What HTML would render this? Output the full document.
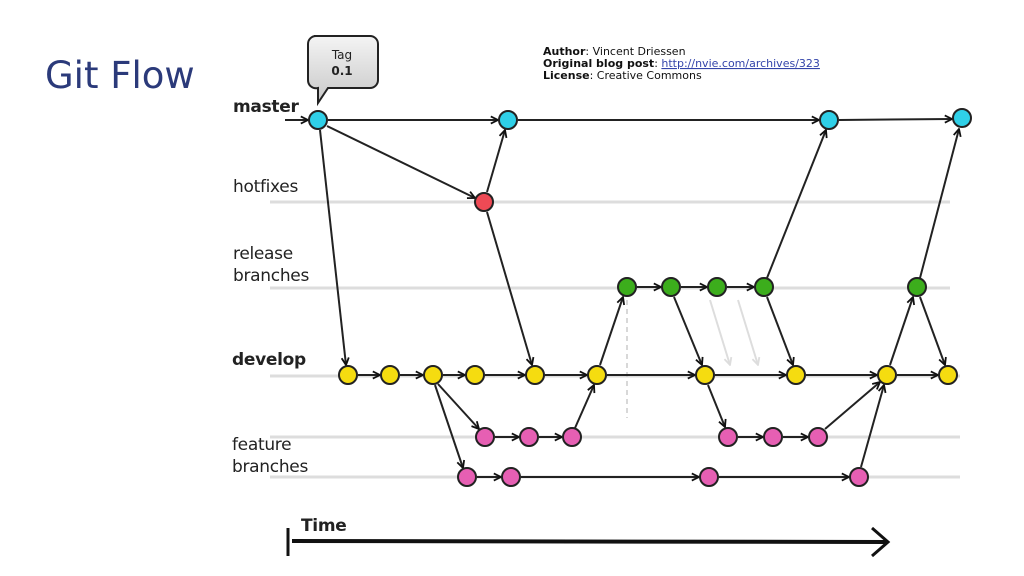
<!DOCTYPE html>
<html><head><meta charset="utf-8"><style>
html,body{margin:0;padding:0;background:#fff;width:1024px;height:576px;overflow:hidden}
svg{display:block}
text{font-family:"DejaVu Sans","Liberation Sans",sans-serif}
</style></head><body>
<svg width="1024" height="576" viewBox="0 0 1024 576" xmlns="http://www.w3.org/2000/svg">
<defs>
<marker id="a" viewBox="0 0 10 10" refX="9" refY="5" markerWidth="9" markerHeight="9" markerUnits="userSpaceOnUse" orient="auto">
<path d="M1,1 L9,5 L1,9" fill="none" stroke="#111" stroke-width="2"/></marker>
<marker id="g" viewBox="0 0 10 10" refX="9" refY="5" markerWidth="9" markerHeight="9" markerUnits="userSpaceOnUse" orient="auto">
<path d="M1,1 L9,5 L1,9" fill="none" stroke="#ddd" stroke-width="2"/></marker>
<linearGradient id="tg" x1="0" y1="0" x2="0" y2="1"><stop offset="0" stop-color="#f4f4f4"/><stop offset="1" stop-color="#c8c8c8"/></linearGradient>
</defs>
<text x="45" y="88" font-size="37" fill="#2b3a7a">Git Flow</text>

<g fill="#111" font-size="11" style="font-family:'Liberation Sans',sans-serif">
<text x="543" y="55"><tspan font-weight="bold">Author</tspan>: Vincent Driessen</text>
<text x="543" y="67"><tspan font-weight="bold">Original blog post</tspan>: <tspan fill="#3344aa" text-decoration="underline">http://nvie.com/archives/323</tspan></text>
<text x="543" y="79"><tspan font-weight="bold">License</tspan>: Creative Commons</text>
</g>

<path d="M314,36 h56 a8,8 0 0 1 8,8 v36 a8,8 0 0 1 -8,8 h-42 l-10,15 l0,-15 a8,8 0 0 1 -10,-8 v-36 a8,8 0 0 1 8,-8 z" fill="url(#tg)" stroke="#222" stroke-width="2"/>
<text x="342" y="59" font-size="12" text-anchor="middle" fill="#222">Tag</text>
<text x="342" y="75" font-size="12" font-weight="bold" text-anchor="middle" fill="#222">0.1</text>

<g font-size="17" fill="#222" letter-spacing="-0.3">
<text x="233" y="112" font-weight="bold">master</text>
<text x="233" y="192">hotfixes</text>
<text x="233" y="259">release</text>
<text x="233" y="281">branches</text>
<text x="232" y="365" font-weight="bold">develop</text>
<text x="232" y="450">feature</text>
<text x="232" y="472">branches</text>
<text x="301" y="531" font-weight="bold">Time</text>
</g>

<g stroke="#ddd" stroke-width="3">
<line x1="270" y1="202" x2="950" y2="202"/>
<line x1="270" y1="288" x2="950" y2="288"/>
<line x1="270" y1="376" x2="960" y2="376"/>
<line x1="270" y1="437" x2="960" y2="437"/>
<line x1="270" y1="477" x2="960" y2="477"/>
</g>
<line x1="627" y1="300" x2="627" y2="418" stroke="#ccc" stroke-width="1.5" stroke-dasharray="5,4"/>

<line x1="288" y1="528" x2="288" y2="556" stroke="#111" stroke-width="3"/>
<line x1="292" y1="541" x2="886" y2="542" stroke="#111" stroke-width="4"/>
<path d="M872,528 L888,542 L872,556" fill="none" stroke="#111" stroke-width="3"/>

<g stroke="#222" stroke-width="2" fill="none" marker-end="url(#a)">
<line x1="285" y1="120" x2="308" y2="120"/>
<line x1="328" y1="120" x2="498" y2="120"/>
<line x1="518" y1="120" x2="819" y2="120"/>
<line x1="839" y1="120" x2="952" y2="119"/>
<line x1="327" y1="126" x2="475" y2="198"/>
<line x1="487" y1="192" x2="505" y2="130"/>
<line x1="487" y1="212" x2="532" y2="365"/>
<line x1="320" y1="130" x2="346" y2="365"/>
<line x1="358" y1="375" x2="380" y2="375"/>
<line x1="400" y1="375" x2="423" y2="375"/>
<line x1="443" y1="375" x2="465" y2="375"/>
<line x1="485" y1="375" x2="525" y2="375"/>
<line x1="545" y1="375" x2="587" y2="375"/>
<line x1="607" y1="375" x2="695" y2="375"/>
<line x1="715" y1="375" x2="786" y2="375"/>
<line x1="806" y1="375" x2="877" y2="375"/>
<line x1="897" y1="375" x2="938" y2="375"/>
<line x1="438" y1="384" x2="479" y2="429"/>
<line x1="435" y1="385" x2="463" y2="468"/>
<line x1="495" y1="437" x2="519" y2="437"/>
<line x1="539" y1="437" x2="562" y2="437"/>
<line x1="575" y1="428" x2="594" y2="385"/>
<line x1="600" y1="365" x2="623" y2="297"/>
<line x1="637" y1="287" x2="661" y2="287"/>
<line x1="681" y1="287" x2="707" y2="287"/>
<line x1="727" y1="287" x2="754" y2="287"/>
<line x1="674" y1="297" x2="702" y2="365"/>
<line x1="767" y1="297" x2="793" y2="365"/>
<line x1="767" y1="278" x2="826" y2="130"/>
<line x1="708" y1="385" x2="725" y2="427"/>
<line x1="738" y1="437" x2="763" y2="437"/>
<line x1="783" y1="437" x2="808" y2="437"/>
<line x1="825" y1="429" x2="880" y2="382"/>
<line x1="477" y1="477" x2="501" y2="477"/>
<line x1="521" y1="477" x2="699" y2="477"/>
<line x1="719" y1="477" x2="849" y2="477"/>
<line x1="861" y1="467" x2="884" y2="385"/>
<line x1="890" y1="365" x2="913" y2="297"/>
<line x1="920" y1="297" x2="945" y2="365"/>
<line x1="920" y1="278" x2="959" y2="129"/>
</g>
<g stroke="#ddd" stroke-width="2" marker-end="url(#g)">
<line x1="710" y1="300" x2="730" y2="365"/>
<line x1="738" y1="300" x2="758" y2="365"/>
</g>

<g stroke="#222" stroke-width="2">
<g fill="#2fd0e8">
<circle cx="318" cy="120" r="9"/><circle cx="508" cy="120" r="9"/><circle cx="829" cy="120" r="9"/><circle cx="962" cy="118" r="9"/>
</g>
<circle cx="484" cy="202" r="9" fill="#ee4a55"/>
<g fill="#3cad1c">
<circle cx="627" cy="287" r="9"/><circle cx="671" cy="287" r="9"/><circle cx="717" cy="287" r="9"/><circle cx="764" cy="287" r="9"/><circle cx="917" cy="287" r="9"/>
</g>
<g fill="#f5dc10">
<circle cx="348" cy="375" r="9"/><circle cx="390" cy="375" r="9"/><circle cx="433" cy="375" r="9"/><circle cx="475" cy="375" r="9"/><circle cx="535" cy="375" r="9"/><circle cx="597" cy="375" r="9"/><circle cx="705" cy="375" r="9"/><circle cx="796" cy="375" r="9"/><circle cx="887" cy="375" r="9"/><circle cx="948" cy="375" r="9"/>
</g>
<g fill="#e65fb3">
<circle cx="485" cy="437" r="9"/><circle cx="529" cy="437" r="9"/><circle cx="572" cy="437" r="9"/><circle cx="728" cy="437" r="9"/><circle cx="773" cy="437" r="9"/><circle cx="818" cy="437" r="9"/>
<circle cx="467" cy="477" r="9"/><circle cx="511" cy="477" r="9"/><circle cx="709" cy="477" r="9"/><circle cx="859" cy="477" r="9"/>
</g>
</g>
</svg>
</body></html>
